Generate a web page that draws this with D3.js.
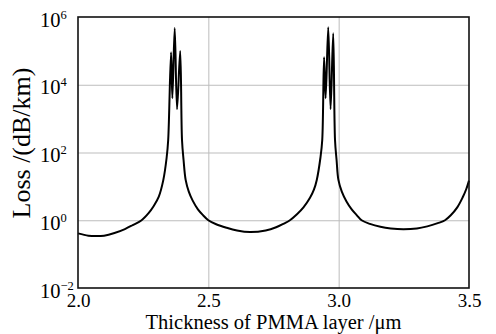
<!DOCTYPE html>
<html>
<head>
<meta charset="utf-8">
<script src="https://cdn.jsdelivr.net/npm/d3@7"></script>
<style>
  body { margin: 0; background: #fff; }
  svg { display: block; }
  text { font-family: "Liberation Serif", "Times New Roman", serif; fill: #000; }
</style>
</head>
<body>
<svg id="chart" width="496" height="334"></svg>
<script>
// thickness of PMMA layer (um) and loss (dB/km)
const thickness = [
  2.000, 2.040, 2.070, 2.100, 2.140, 2.180, 2.210, 2.244, 2.270, 2.290,
  2.310, 2.327, 2.340, 2.346, 2.357, 2.362, 2.371, 2.380, 2.392, 2.399,
  2.405, 2.413, 2.425, 2.440, 2.460, 2.480, 2.500, 2.530, 2.570, 2.610,
  2.660, 2.720, 2.760, 2.790, 2.813, 2.840, 2.865, 2.890, 2.905, 2.916,
  2.930, 2.937, 2.944, 2.950, 2.960, 2.969, 2.979, 2.986, 2.992, 2.999,
  3.012, 3.030, 3.050, 3.070, 3.088, 3.120, 3.160, 3.200, 3.248, 3.300,
  3.340, 3.380, 3.408, 3.430, 3.455, 3.475, 3.490, 3.500
];
const loss = [
  0.41, 0.35, 0.34, 0.35, 0.42, 0.55, 0.72, 1.0, 1.6, 2.6,
  5.0, 15, 70, 234, 9.1e4, 4.0e3, 4.7e5, 1.9e3, 1.0e5, 234,
  60, 15.5, 7.0, 3.8, 2.1, 1.4, 1.0, 0.76, 0.60, 0.50,
  0.45, 0.50, 0.62, 0.80, 1.0, 1.5, 2.4, 4.6, 8.0, 15.5,
  70, 234, 6.5e4, 4.0e3, 5.0e5, 1.9e3, 3.3e5, 234, 60, 15.5,
  7.0, 3.6, 2.1, 1.4, 1.0, 0.78, 0.64, 0.57, 0.54, 0.57,
  0.66, 0.82, 1.0, 1.4, 2.4, 4.6, 8.5, 14.8
];
const xTicks = [2.0, 2.5, 3.0, 3.5];
const yExponents = [-2, 0, 2, 4, 6];

const margin = { top: 17, right: 27, bottom: 46, left: 78 };
const width = 496 - margin.left - margin.right;
const height = 334 - margin.top - margin.bottom;

const svg = d3.select('#chart');
const g = svg.append('g').attr('transform', `translate(${margin.left},${margin.top})`);

const x = d3.scaleLinear().domain([2.0, 3.5]).range([0, width]);
const y = d3.scaleLog().domain([1e-2, 1e6]).range([height, 0]);

// grid lines
g.append('g')
  .call(d3.axisBottom(x).tickValues(xTicks.slice(1, -1)).tickSize(height).tickFormat(''))
  .call(a => a.select('.domain').remove())
  .call(a => a.selectAll('line').attr('stroke', '#bdbdbd').attr('stroke-width', 1));
g.append('g')
  .call(d3.axisLeft(y).tickValues(yExponents.slice(1, -1).map(e => Math.pow(10, e))).tickSize(-width).tickFormat(''))
  .call(a => a.select('.domain').remove())
  .call(a => a.selectAll('line').attr('stroke', '#bdbdbd').attr('stroke-width', 1));

// x tick labels
g.append('g')
  .attr('transform', `translate(0,${height})`)
  .call(d3.axisBottom(x).tickValues(xTicks).tickSize(0).tickPadding(0).tickFormat(d3.format('.1f')))
  .call(a => a.select('.domain').remove())
  .call(a => a.selectAll('text').attr('dy', null).attr('y', 19)
    .attr('font-size', 19).attr('fill', '#000')
    .attr('font-family', '"Liberation Serif", serif'));

// y tick labels, 10 with superscript exponent
const yAxis = g.append('g')
  .call(d3.axisLeft(y).tickValues(yExponents.map(e => Math.pow(10, e))).tickSize(0).tickFormat(''))
  .call(a => a.select('.domain').remove());
yAxis.selectAll('.tick text').remove();
yAxis.selectAll('.tick').each(function(d) {
  const t = d3.select(this).append('text')
    .attr('x', 40 - margin.left)
    .attr('y', 9)
    .attr('text-anchor', 'start')
    .attr('font-size', 20.5)
    .attr('fill', '#000')
    .attr('font-family', '"Liberation Serif", serif');
  t.append('tspan').text('10');
  t.append('tspan').attr('dy', -8).attr('font-size', 12.5)
    .text(String(Math.round(Math.log10(d))).replace('-', '\u2212'));
});

// curve
const line = d3.line()
  .x((d, i) => x(thickness[i]))
  .y((d, i) => y(loss[i]))
  .curve(d3.curveCatmullRom.alpha(0.5));

g.append('path')
  .datum(loss)
  .attr('d', line)
  .attr('fill', 'none')
  .attr('stroke', '#000')
  .attr('stroke-width', 2)
  .attr('stroke-linejoin', 'round');

// frame
g.append('rect')
  .attr('width', width)
  .attr('height', height)
  .attr('fill', 'none')
  .attr('stroke', '#111')
  .attr('stroke-width', 1.6);

// axis titles
svg.append('text')
  .attr('x', margin.left + width / 2)
  .attr('y', 329.3)
  .attr('text-anchor', 'middle')
  .attr('font-size', 20.5)
  .text('Thickness of PMMA layer /\u03bcm');

svg.append('text')
  .attr('transform', 'translate(30,143) rotate(-90)')
  .attr('text-anchor', 'middle')
  .attr('font-size', 26)
  .text('Loss /(dB/km)');
</script>
</body>
</html>
